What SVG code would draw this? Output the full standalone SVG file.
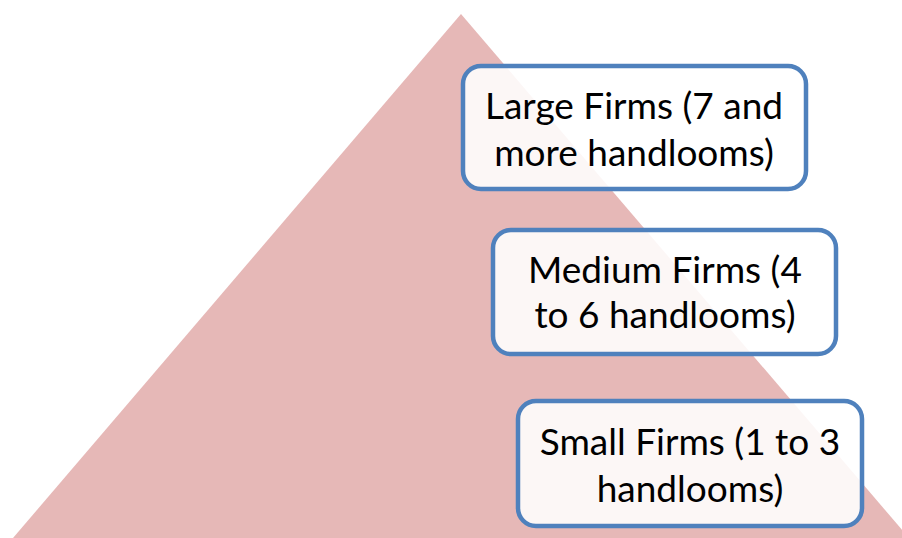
<svg xmlns="http://www.w3.org/2000/svg" width="902" height="538" viewBox="0 0 902 538">
  <style>
    .tier { fill: #ffffff; fill-opacity: 0.88; stroke: #4f81bd; stroke-width: 4.5; }
    .label { font-family: Lato, "Liberation Sans", sans-serif; font-size: 37px; fill: #000000; text-anchor: middle; }
  </style>
  <rect width="902" height="538" fill="#ffffff"/>
  <!-- pyramid background -->
  <polygon id="pyramid" points="461,14 13,538 909,538" fill="#e6b8b7"/>
  <g id="connectors"/>
  <g id="large-firms">
    <rect class="tier" x="463" y="66" width="343" height="123" rx="18"/>
    <text class="label" x="634" y="119">Large Firms (7 and</text>
    <text class="label" x="634" y="166">more handlooms)</text>
  </g>
  <g id="medium-firms">
    <rect class="tier" x="493" y="230" width="343" height="124" rx="18"/>
    <text class="label" x="665" y="282.5">Medium Firms (4</text>
    <text class="label" x="665" y="328">to 6 handlooms)</text>
  </g>
  <g id="small-firms">
    <rect class="tier" x="518" y="401" width="344" height="125" rx="18"/>
    <text class="label" x="690" y="455">Small Firms (1 to 3</text>
    <text class="label" x="690" y="502">handlooms)</text>
  </g>
</svg>
